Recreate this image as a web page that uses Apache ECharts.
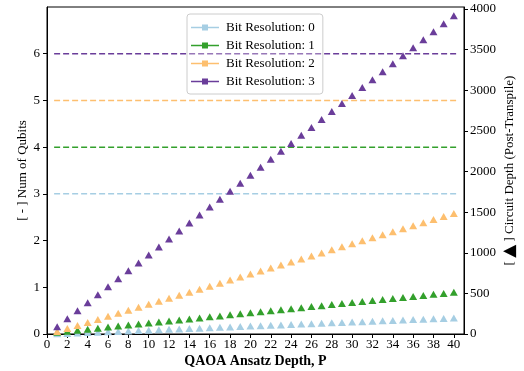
<!DOCTYPE html>
<html>
<head>
<meta charset="utf-8">
<script src="https://cdn.jsdelivr.net/npm/echarts@6/dist/echarts.min.js"></script>
<style>
	html, body { margin: 0; padding: 0; background: #fff; }
	#chart { width: 524px; height: 371px; }
</style>
</head>
<body>
<div id="chart"></div>
<script>
const depth = [1, 2, 3, 4, 5, 6, 7, 8, 9, 10, 11, 12, 13, 14, 15, 16, 17, 18, 19, 20,
	21, 22, 23, 24, 25, 26, 27, 28, 29, 30, 31, 32, 33, 34, 35, 36, 37, 38, 39, 40]
const names = ['Bit Resolution: 0', 'Bit Resolution: 1', 'Bit Resolution: 2', 'Bit Resolution: 3']
const colors = ['#a6cee3', '#33a02c', '#fdbf6f', '#6a3d9a']
const qubits = [3, 4, 5, 6]
const depth0 = [2, 7, 12, 17, 22, 27, 32, 37, 42, 47, 52, 57, 62, 67, 72, 77, 82, 87, 92, 97,
	102, 107, 112, 117, 122, 127, 132, 137, 142, 147, 152, 157, 162, 167, 172, 177, 182, 187, 192, 197]
const depth1 = [22, 34, 47, 59, 72, 85, 97, 110, 122, 135, 148, 160, 173, 185, 198, 211, 223, 236, 248, 261,
	274, 286, 299, 311, 324, 337, 349, 362, 374, 387, 400, 412, 425, 437, 450, 463, 475, 488, 500, 513]
const depth2 = [31, 68, 106, 143, 180, 217, 254, 292, 329, 366, 403, 440, 478, 515, 552, 589, 626, 664, 701, 738,
	775, 812, 850, 887, 924, 961, 998, 1036, 1073, 1110, 1147, 1184, 1222, 1259, 1296, 1333, 1370, 1408, 1445, 1482]
const depth3 = [90, 188, 286, 384, 483, 581, 679, 777, 875, 973, 1071, 1169, 1268, 1366, 1464, 1562, 1660, 1758, 1856, 1954,
	2052, 2150, 2248, 2346, 2445, 2543, 2641, 2739, 2837, 2935, 3033, 3131, 3229, 3327, 3426, 3524, 3622, 3720, 3818, 3916]
const circuitDepth = [depth0, depth1, depth2, depth3]
const lineSpan = [0.7, 40.3]
const xTicks = [0, 2, 4, 6, 8, 10, 12, 14, 16, 18, 20, 22, 24, 26, 28, 30, 32, 34, 36, 38, 40]
const leftTicks = [0, 1, 2, 3, 4, 5, 6]
const rightTicks = [0, 500, 1000, 1500, 2000, 2500, 3000, 3500, 4000]

const font = 'Liberation Serif'
const chart = echarts.init(document.getElementById('chart'))

const series = []
circuitDepth.forEach((vals, i) => {
	series.push({
		name: names[i],
		type: 'scatter',
		yAxisIndex: 1,
		symbol: 'triangle',
		symbolSize: [8, 7],
		itemStyle: { color: colors[i], opacity: 1 },
		z: 3 + i,
		data: depth.map((d, k) => [d, vals[k]])
	})
})
qubits.forEach((q, i) => {
	series.push({
		name: names[i],
		type: 'line',
		yAxisIndex: 0,
		symbol: 'none',
		lineStyle: { color: colors[i], width: 1.5, type: [6, 3] },
		itemStyle: { color: colors[i] },
		z: 1,
		data: lineSpan.map(x => [x, q])
	})
})

const axisCommon = {
	axisLine: { show: true, lineStyle: { color: '#000', width: 1 } },
	splitLine: { show: false },
	nameMoveOverlap: false,
	nameTextStyle: { fontFamily: font, fontSize: 13, color: '#000' }
}

chart.setOption({
	animation: false,
	textStyle: { fontFamily: font },
	grid: {
		left: 47,
		right: 60,
		top: 7,
		bottom: 37,
		outerBoundsMode: 'none',
		show: true,
		borderColor: '#000',
		borderWidth: 1
	},
	legend: {
		data: names,
		orient: 'vertical',
		left: 187,
		top: 14,
		padding: [7, 8, 6, 4],
		itemGap: 5,
		itemWidth: 28,
		itemHeight: 6,
		icon: 'path://M0,2.25 L28,2.25 L28,3.75 L0,3.75 Z M11,0 L17,0 L17,6 L11,6 Z',
		itemStyle: { borderWidth: 0 },
		borderColor: '#cccccc',
		borderWidth: 1,
		borderRadius: 3,
		backgroundColor: 'rgba(255,255,255,0.3)',
		textStyle: { fontFamily: font, fontSize: 13, color: '#000', padding: [1, 0, 0, 2] }
	},
	xAxis: Object.assign({}, axisCommon, {
		type: 'value',
		min: 0,
		max: 41,
		name: 'QAOA Ansatz Depth, P',
		nameLocation: 'middle',
		nameGap: 20,
		nameTextStyle: { fontFamily: font, fontSize: 14, fontWeight: 'bold', color: '#000' },
		axisTick: { show: true, length: 4, lineStyle: { color: '#000' }, customValues: xTicks },
		axisLabel: { fontFamily: font, fontSize: 13, color: '#000', margin: 4, customValues: xTicks }
	}),
	yAxis: [
		Object.assign({}, axisCommon, {
			type: 'value',
			position: 'left',
			min: 0,
			max: 7,
			name: '[ - ] Num of Qubits',
			nameLocation: 'middle',
			nameRotate: 90,
			nameGap: 18,
			axisTick: { show: true, length: 4, lineStyle: { color: '#000' }, customValues: leftTicks },
			axisLabel: { fontFamily: font, fontSize: 13, color: '#000', margin: 7, customValues: leftTicks }
		}),
		Object.assign({}, axisCommon, {
			type: 'value',
			position: 'right',
			min: 0,
			max: 4025,
			name: '[ {tri|▲} ] Circuit Depth (Post-Transpile)',
			nameLocation: 'middle',
			nameRotate: 90,
			nameGap: 37,
			nameTextStyle: {
				fontFamily: font,
				fontSize: 13,
				color: '#000',
				rich: { tri: { fontFamily: 'DejaVu Sans', fontSize: 17, color: '#000' } }
			},
			axisTick: { show: true, length: 4, lineStyle: { color: '#000' }, customValues: rightTicks },
			axisLabel: {
				fontFamily: font,
				fontSize: 13,
				color: '#000',
				margin: 6,
				customValues: rightTicks,
				formatter: v => String(v)
			}
		})
	],
	series: series
})
</script>
</body>
</html>
